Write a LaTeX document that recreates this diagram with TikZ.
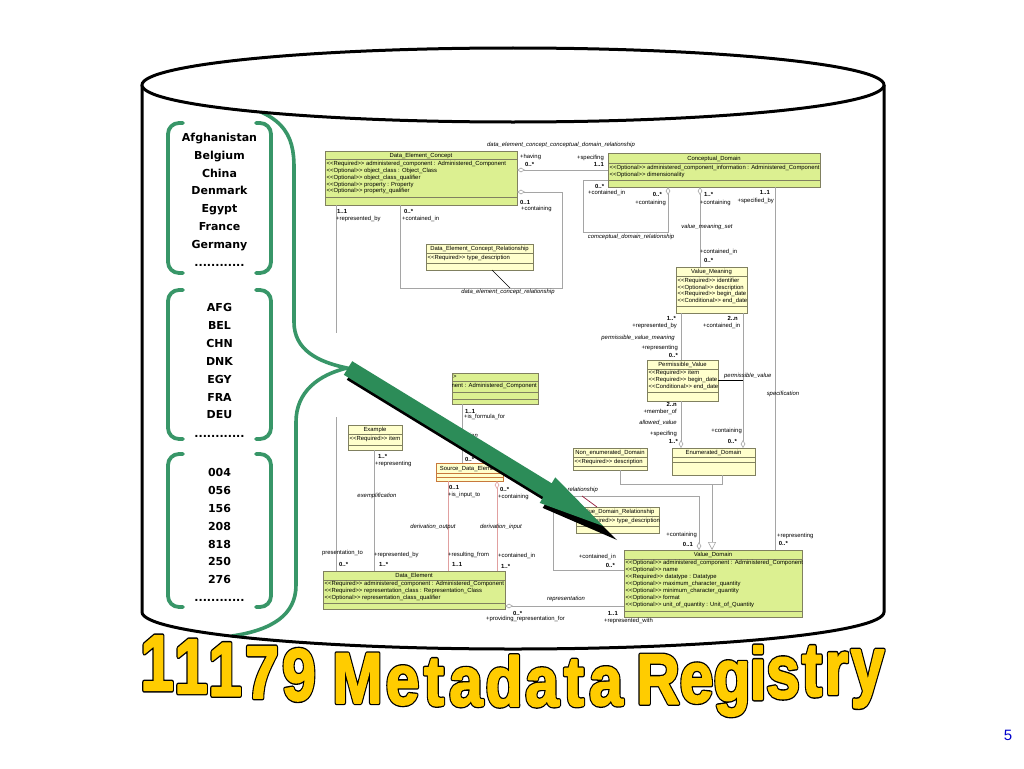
\documentclass[tikz,border=0pt]{standalone}
\usepackage{fontspec}
\usepackage{graphicx}
\setmainfont{Liberation Sans}
\newfontfamily\umlf{Liberation Sans}
\newfontfamily\listf{DejaVu Sans}
\usetikzlibrary{arrows.meta}
\definecolor{umlgreen}{RGB}{220,240,145}
\definecolor{umlyellow}{RGB}{255,255,204}
\definecolor{umlborder}{RGB}{128,128,96}
\definecolor{sdeborder}{RGB}{200,120,60}
\definecolor{conn}{RGB}{165,165,165}
\definecolor{pinkconn}{RGB}{225,160,160}
\definecolor{maroonconn}{RGB}{150,30,60}
\definecolor{bracegreen}{RGB}{56,150,104}
\definecolor{arrowgreen}{RGB}{44,140,88}
\definecolor{titley}{RGB}{255,204,0}
\definecolor{pagenum}{RGB}{0,0,204}
\newcommand{\req}{<{}<Required>{}>}
\newcommand{\opt}{<{}<Optional>{}>}
\newcommand{\cnd}{<{}<Conditional>{}>}
\newcommand{\dts}{............}
\newcommand{\outlb}[1]{\special{pdf:literal direct 0 0 0 RG 4.4 w 1 j 2 Tr}#1\special{pdf:literal direct 0 Tr}}
\newcommand{\outly}[1]{\special{pdf:literal direct 1 0.8 0 RG 1.8 w 1 j 2 Tr}#1\special{pdf:literal direct 0 Tr}}
\tikzset{
 cyl/.style={draw=black, line width=3pt},
 brace/.style={draw=bracegreen, line width=3.6pt, line cap=round},
 brk/.style={draw=bracegreen, line width=3.8pt, rounded corners=11pt, line cap=round},
 listtxt/.style={font=\listf\bfseries\fontsize{11}{13}\selectfont, anchor=base, inner sep=0pt},
 umlbox/.style={draw=umlborder, line width=0.6pt, inner sep=0pt, outer sep=0pt, anchor=north west},
 gbox/.style={umlbox, fill=umlgreen},
 ybox/.style={umlbox, fill=umlyellow},
 sep/.style={draw=umlborder, line width=0.45pt},
 utxt/.style={font=\umlf\fontsize{5.9}{7}\selectfont, inner sep=0pt},
 uattr/.style={utxt, anchor=west},
 role/.style={utxt, anchor=west},
 mult/.style={role, font=\umlf\bfseries\fontsize{5.9}{7}\selectfont},
 aname/.style={utxt, font=\umlf\itshape\fontsize{5.9}{7}\selectfont},
 assoc/.style={draw=conn, line width=0.6pt},
 passoc/.style={draw=pinkconn, line width=0.6pt},
 agg/.tip={Diamond[fill=white, length=8pt, width=4.6pt, line width=0.6pt]},
 gen/.tip={Triangle[fill=white, length=8pt, width=8pt, line width=0.6pt]},
 tchar/.style={anchor=base, inner sep=0pt, font=\bfseries\fontsize{70}{70}\selectfont, text=titley},
 pnum/.style={font=\fontsize{15}{15}\selectfont, text=pagenum, inner sep=0pt}
}
\newcommand{\hsep}[2]{\draw[sep] (#1.west |- 0,#2) -- (#1.east |- 0,#2);}
\begin{document}
\begin{tikzpicture}[x=1pt,y=-1pt]
\useasboundingbox (0,0) rectangle (1024,768);
\fill[white] (0,0) rectangle (1024,768);
% big brace
\draw[brace] (215,100) .. controls (285,110) and (294,135) .. (294,168) -- (294,322) .. controls (294,350) and (318,362) .. (347,368) .. controls (318,375) and (296,392) .. (296,422) -- (296,585) .. controls (296,615) and (272,630) .. (232,636);
% cylinder
\draw[cyl] (142,85) -- (142,612) arc[start angle=180, end angle=360, x radius=371pt, y radius=37pt] -- (884,85);
\draw[cyl, fill=white] (513,85) ellipse [x radius=371pt, y radius=37pt];

% ===== UML boxes =====
\node[gbox, minimum width=192pt, minimum height=54pt] (dec) at (325,151) {};
\hsep{dec}{159}\hsep{dec}{197}
\node[utxt] (decH) at (421,155.5) {Data\_Element\_Concept};
\node[uattr] (decA1) at (326.5,164) {\req\ administered\_component : Administered\_Component};
\node[uattr] (decA2) at (326.5,171) {\opt\ object\_class : Object\_Class};
\node[uattr] (decA3) at (326.5,178) {\opt\ object\_class\_qualifier};
\node[uattr] (decA4) at (326.5,184.5) {\opt\ property : Property};
\node[uattr] (decA5) at (326.5,191) {\opt\ property\_qualifier};

\node[gbox, minimum width=212pt, minimum height=34pt] (cd) at (608,153) {};
\hsep{cd}{163.5}\hsep{cd}{180}
\node[utxt] (cdH) at (714,159) {Conceptual\_Domain};
\node[uattr] (cdA1) at (609.5,168) {\opt\ administered\_component\_information : Administered\_Component};
\node[uattr] (cdA2) at (609.5,175) {\opt\ dimensionality};

\node[ybox, minimum width=107pt, minimum height=26pt] (decr) at (426,244) {};
\hsep{decr}{253}\hsep{decr}{263}
\node[utxt] (decrH) at (479.5,249) {Data\_Element\_Concept\_Relationship};
\node[uattr] (decrA1) at (427.5,258) {\req\ type\_description};

\node[ybox, minimum width=71pt, minimum height=46pt] (vm) at (676,267) {};
\hsep{vm}{276.5}\hsep{vm}{306}
\node[utxt] (vmH) at (711.5,272) {Value\_Meaning};
\node[uattr] (vmA1) at (677.5,281) {\req\ identifier};
\node[uattr] (vmA2) at (677.5,287.5) {\opt\ description};
\node[uattr] (vmA3) at (677.5,294) {\req\ begin\_date};
\node[uattr] (vmA4) at (677.5,301) {\cnd\ end\_date};

\node[ybox, minimum width=71pt, minimum height=41pt] (pv) at (647,360) {};
\hsep{pv}{369}\hsep{pv}{392}
\node[utxt] (pvH) at (682.5,365) {Permissible\_Value};
\node[uattr] (pvA1) at (648.5,373) {\req\ item};
\node[uattr] (pvA2) at (648.5,380) {\req\ begin\_date};
\node[uattr] (pvA3) at (648.5,387) {\cnd\ end\_date};

\node[ybox, minimum width=83pt, minimum height=27pt] (ed) at (672,448) {};
\hsep{ed}{457.5}\hsep{ed}{462}
\node[utxt] (edH) at (713.5,453) {Enumerated\_Domain};

\node[ybox, minimum width=74pt, minimum height=22pt] (ned) at (573,448) {};
\hsep{ned}{457}\hsep{ned}{466.5}
\node[utxt] (nedH) at (610,453) {Non\_enumerated\_Domain};
\node[uattr] (nedA1) at (574.5,462) {\req\ description};

\node[gbox, minimum width=86pt, minimum height=31pt] (hid) at (452,373) {};
\hsep{hid}{381}\hsep{hid}{392}\hsep{hid}{399}
\begin{scope}
\clip (452.5,370) rectangle (540,406);
\node[uattr] (hidH) at (452.8,377) {>};
\node[utxt, anchor=east] (hidA1) at (537,386) {\req\ administered\_component : Administered\_Component};
\end{scope}

\node[ybox, minimum width=54pt, minimum height=25pt] (ex) at (348,425) {};
\hsep{ex}{434}\hsep{ex}{445}
\node[utxt] (exH) at (375,430) {Example};
\node[uattr] (exA1) at (349.5,439) {\req\ item};

\node[ybox, draw=sdeborder, minimum width=67pt, minimum height=18pt] (sde) at (436,463) {};
\draw[sep, draw=sdeborder] (sde.west |- 0,473) -- (sde.east |- 0,473);
\draw[sep, draw=sdeborder] (sde.west |- 0,477) -- (sde.east |- 0,477);
\node[utxt] (sdeH) at (469.5,468.5) {Source\_Data\_Element};

\node[ybox, minimum width=83pt, minimum height=26pt] (vdr) at (576,507) {};
\hsep{vdr}{516.5}\hsep{vdr}{526}
\node[utxt] (vdrH) at (617.5,512) {Value\_Domain\_Relationship};
\node[uattr] (vdrA1) at (577.5,521) {\req\ type\_description};

\node[gbox, minimum width=182pt, minimum height=38pt] (de) at (323,571) {};
\hsep{de}{580}\hsep{de}{603}
\node[utxt] (deH) at (414,576) {Data\_Element};
\node[uattr] (deA1) at (324.5,584) {\req\ administered\_component : Administered\_Component};
\node[uattr] (deA2) at (324.5,591) {\req\ representation\_class : Representation\_Class};
\node[uattr] (deA3) at (324.5,598) {\opt\ representation\_class\_qualifier};

\node[gbox, minimum width=178pt, minimum height=67pt] (vd) at (624,550) {};
\hsep{vd}{559}\hsep{vd}{611}
\node[utxt] (vdH) at (713,555) {Value\_Domain};
\node[uattr] (vdA1) at (625.5,563) {\opt\ administered\_component : Administered\_Component};
\node[uattr] (vdA2) at (625.5,570) {\opt\ name};
\node[uattr] (vdA3) at (625.5,577) {\req\ datatype : Datatype};
\node[uattr] (vdA4) at (625.5,584) {\opt\ maximum\_character\_quantity};
\node[uattr] (vdA5) at (625.5,591) {\opt\ minimum\_character\_quantity};
\node[uattr] (vdA6) at (625.5,598) {\opt\ format};
\node[uattr] (vdA7) at (625.5,605) {\opt\ unit\_of\_quantity : Unit\_of\_Quantity};

% ===== connectors =====
\draw[assoc, agg-] (dec.east |- 0,170) -- (cd.west |- 0,170);
\draw[assoc, agg-] (dec.east |- 0,192) -- (562,192) -- (562,288) -- (400,288) -- (400,0 |- dec.south);
\draw[black, line width=0.7pt] (492,0 |- decr.south) -- (510,288);
\draw[assoc, -agg] (cd.west |- 0,180) -- (583,180) -- (583,232) -- (668,232) -- (668,0 |- cd.south);
\draw[assoc, agg-] (700,0 |- cd.south) -- (700,0 |- vm.north);
\draw[assoc] (775,0 |- cd.south) -- (775,0 |- vd.north);
\draw[assoc] (681,0 |- vm.south) -- (681,0 |- pv.north);
\draw[assoc, -agg] (743,0 |- vm.south) -- (743,0 |- ed.north);
\draw[black, line width=0.7pt] (pv.east |- 0,380) -- (743,380);
\draw[assoc, -agg] (681,0 |- pv.south) -- (681,0 |- ed.north);
\coordinate (gj) at (712,484);
\draw[assoc] (620,0 |- ned.south) -- (620,484) -- (722,484) -- (722,0 |- ed.south);
\draw[assoc, -gen] (gj) -- (712,0 |- vd.north);
\draw[assoc, agg-] (699,0 |- vd.north) -- (699,496) -- (553,496) -- (553,570) -- (vd.west |- 0,570);
\draw[maroonconn, line width=0.7pt] (582,496) -- (597,0 |- vdr.north);
\draw[assoc] (462,0 |- hid.south) -- (462,0 |- sde.north);
\draw[passoc] (448,0 |- sde.south) -- (448,0 |- de.north);
\draw[passoc, agg-] (497,0 |- sde.south) -- (497,0 |- de.north);
\draw[assoc] (374,0 |- ex.south) -- (374,0 |- de.north);
\coordinate (cut1) at (336,333);
\coordinate (cut2) at (336,417);
\draw[assoc] (336,0 |- dec.south) -- (cut1);
\draw[assoc] (cut2) -- (336,0 |- de.north);
\draw[assoc, agg-] (de.east |- 0,606) -- (vd.west |- 0,606);

% ===== association names =====
\node[aname] (an1) at (561,145) {data\_element\_concept\_conceptual\_domain\_relationship};
\node[aname] (an2) at (508,292) {data\_element\_concept\_relationship};
\node[aname] (an3) at (631,237) {comceptual\_domain\_relationship};
\node[aname] (an4) at (707,227) {value\_meaning\_set};
\node[aname] (an5) at (638,338) {permissible\_value\_meaning};
\node[aname, anchor=west] (an6) at (724,376) {permissible\_value};
\node[aname] (an7) at (783,394) {specification};
\node[aname] (an8) at (658,423) {allowed\_value};
\node[aname] (an9) at (377,496) {exemplification};
\node[aname] (an10) at (433,527) {derivation\_output};
\node[aname] (an11) at (501,527) {derivation\_input};
\node[aname] (an12) at (566,599) {representation};
\node[aname, anchor=east] (an13) at (598,490) {value\_domain\_relationship};
\node[aname, anchor=east] (an14) at (478,435) {derivation};

% ===== role names =====
\node[role] (r1) at (520,157) {+having};
\node[role, anchor=east] (r2) at (604,158) {+specifing};
\node[role] (r3) at (521,209) {+containing};
\node[role] (r4) at (336,219) {+represented\_by};
\node[role] (r5) at (402,219) {+contained\_in};
\node[role] (r6) at (588,193) {+contained\_in};
\node[role, anchor=east] (r7) at (666,203) {+containing};
\node[role] (r8) at (700,203) {+containing};
\node[role, anchor=east] (r9) at (774,201) {+specified\_by};
\node[role] (r10) at (700,252) {+contained\_in};
\node[role, anchor=east] (r11) at (677,326) {+represented\_by};
\node[role, anchor=east] (r12) at (678,348) {+representing};
\node[role] (r13) at (703,326) {+contained\_in};
\node[role, anchor=east] (r14) at (677,412) {+member\_of};
\node[role, anchor=east] (r15) at (677,434) {+specifing};
\node[role, anchor=east] (r16) at (742,431) {+containing};
\node[role] (r17) at (464,417) {+is\_formula\_for};
\node[role] (r18) at (464,452) {+};
\node[role] (r19) at (375,464) {+representing};
\node[role] (r20) at (448,495) {+is\_input\_to};
\node[role] (r21) at (498,497) {+containing};
\node[role] (r22) at (322,553) {presentation\_to};
\node[role] (r23) at (374,555) {+represented\_by};
\node[role] (r24) at (448,555) {+resulting\_from};
\node[role] (r25) at (498,556) {+contained\_in};
\node[role, anchor=east] (r26) at (697,535) {+containing};
\node[role] (r27) at (777,536) {+representing};
\node[role, anchor=east] (r28) at (616,557) {+contained\_in};
\node[role] (r29) at (486,619) {+providing\_representation\_for};
\node[role] (r30) at (604,621) {+represented\_with};

% ===== multiplicities =====
\node[mult] (m1) at (525,164) {0..*};
\node[mult, anchor=east] (m2) at (604,164) {1..1};
\node[mult] (m3) at (520,202) {0..1};
\node[mult] (m4) at (337,211.5) {1..1};
\node[mult] (m5) at (404,211.5) {0..*};
\node[mult] (m6) at (595,186) {0..*};
\node[mult, anchor=east] (m7) at (662,194) {0..*};
\node[mult] (m8) at (704,194) {1..*};
\node[mult, anchor=east] (m9) at (770,192) {1..1};
\node[mult] (m10) at (704,260) {0..*};
\node[mult, anchor=east] (m11) at (676,318) {1..*};
\node[mult, anchor=east] (m12) at (738,318) {2..n};
\node[mult, anchor=east] (m13) at (678,355) {0..*};
\node[mult, anchor=east] (m14) at (677,404) {2..n};
\node[mult, anchor=east] (m15) at (678,441) {1..*};
\node[mult, anchor=east] (m16) at (737,441) {0..*};
\node[mult] (m17) at (465,411) {1..1};
\node[mult] (m18) at (465,459) {0..*};
\node[mult] (m19) at (378,456) {1..*};
\node[mult] (m20) at (449,487) {0..1};
\node[mult] (m21) at (500,489) {0..*};
\node[mult] (m22) at (339,564) {0..*};
\node[mult] (m23) at (379,564) {1..*};
\node[mult] (m24) at (452,564) {1..1};
\node[mult] (m25) at (501,566) {1..*};
\node[mult, anchor=east] (m26) at (693,544) {0..1};
\node[mult, anchor=east] (m27) at (788,543) {0..*};
\node[mult, anchor=east] (m28) at (615,565) {0..*};
\node[mult] (m29) at (513,613) {0..*};
\node[mult, anchor=east] (m30) at (618,613) {1..1};

% ===== lists =====
\foreach \ya/\yb in {123/273, 290/439, 454/607}{
 \draw[brk] (183,\ya) -- (168,\ya) -- (168,\yb) -- (183,\yb);
 \draw[brk] (256,\ya) -- (271,\ya) -- (271,\yb) -- (256,\yb);
}
\foreach \t/\y [count=\i] in {Afghanistan/141, Belgium/159, China/177, Denmark/194, Egypt/212, France/230, Germany/248, \dts/266, AFG/311, BEL/329, CHN/347, DNK/365, EGY/383, FRA/401, DEU/418, \dts/437, 004/476, 056/494, 156/512, 208/530, 818/548, 250/565, 276/583, \dts/601}
 \node[listtxt] (li\i) at (219.5,\y) {\t};

% ===== big arrow =====
\fill[black] (355.2,366.2) -- (554.7,488.3) -- (558.3,482.3) -- (617,540) -- (542.7,507.9) -- (546.3,501.9) -- (346.8,379.8) -- cycle;
\fill[arrowgreen] (352.2,361.2) -- (551.7,483.3) -- (555.3,477.3) -- (603,526) -- (539.7,502.9) -- (543.3,496.9) -- (343.8,374.8) -- cycle;

% ===== title =====
\foreach \c/\x [count=\i] in {1/157,1/191,1/225,7/262,9/299,M/357.5,e/402.5,t/434,a/466,d/504,a/542,t/574,a/606,R/658,e/696.5,g/732,i/758,s/783,t/812,r/836.5,y/867.5}{
 \pgfmathsetmacro\dd{((\x-520)/100)^2}
 \pgfmathsetmacro\bb{706-1.2*\dd}
 \pgfmathsetmacro\ss{(50+0.5*\dd)/50.1}
 \node[tchar] (tcb\i) at (\x,\bb) {\scalebox{0.86}[\ss]{\outlb{\c}}};
 \node[tchar] (tc\i) at (\x,\bb) {\scalebox{0.86}[\ss]{\outly{\c}}};
}
\node[pnum] (pn) at (1008,735) {5};
\end{tikzpicture}
\end{document}
